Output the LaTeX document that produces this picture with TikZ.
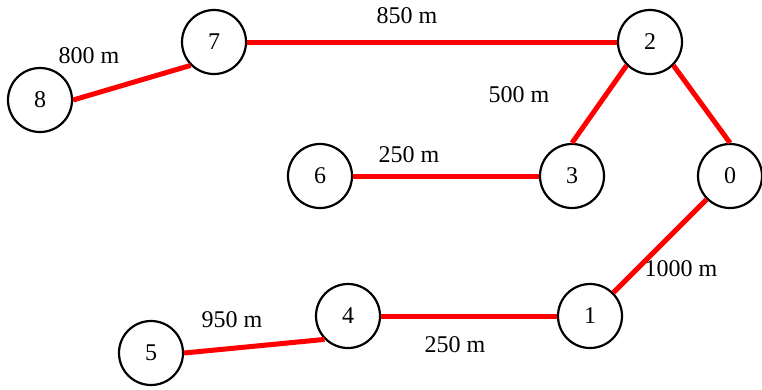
\documentclass[tikz,border=0pt]{standalone}
\usepackage{fontspec}
\setmainfont{Liberation Serif}
\begin{document}
\begin{tikzpicture}[x=1pt,y=-1pt,
  vtx/.style={circle,draw=black,line width=2.2pt,minimum size=64pt,inner sep=0pt,font=\fontsize{24}{28}\selectfont,fill=white},
  edge/.style={red,line width=5pt},
  lbl/.style={font=\fontsize{24}{28}\selectfont,inner sep=0pt}]
\useasboundingbox (0,0) rectangle (762,389);
\node[vtx] (n8) at (40,100) {8};
\node[vtx] (n7) at (214,42) {7};
\node[vtx] (n2) at (650,42) {2};
\node[vtx] (n6) at (320,176) {6};
\node[vtx] (n3) at (572,176) {3};
\node[vtx] (n0) at (730,176) {0};
\node[vtx] (n4) at (348,316) {4};
\node[vtx] (n1) at (590,316) {1};
\node[vtx] (n5) at (151,353) {5};
\draw[edge] (n8.east) -- (n7.south west);
\draw[edge] (n7.east) -- (n2.west);
\draw[edge] (n2.south west) -- (n3.north);
\draw[edge] (n2.south east) -- (n0.north);
\draw[edge] (n6.east) -- (n3.west);
\draw[edge] (n0.south west) -- (n1.north east);
\draw[edge] (n4.east) -- (n1.west);
\draw[edge] (n5.east) -- (n4.south west);
\node[lbl] (l87) at (89,56) {800 m};
\node[lbl] (l72) at (407,16) {850 m};
\node[lbl] (l23) at (519,95) {500 m};
\node[lbl] (l63) at (409,155) {250 m};
\node[lbl] (l01) at (681,269) {1000 m};
\node[lbl] (l41) at (455,345) {250 m};
\node[lbl] (l54) at (232,320) {950 m};
\end{tikzpicture}
\end{document}
